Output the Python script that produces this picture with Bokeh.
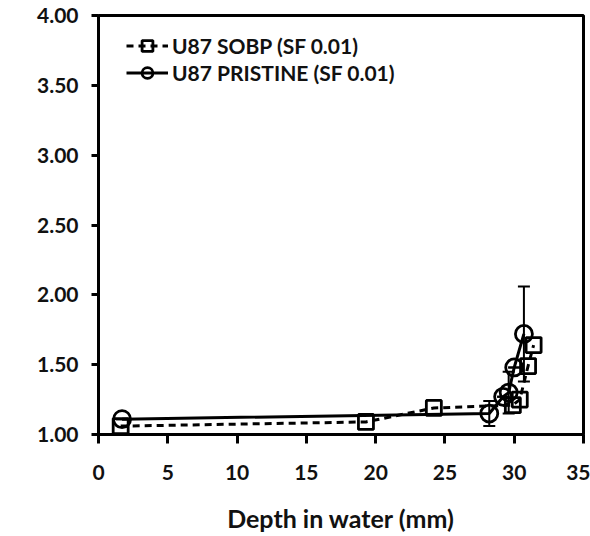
from bokeh.plotting import figure
from bokeh.models import (ColumnDataSource, Whisker, TeeHead, Legend, LegendItem,
                          FixedTicker, NumeralTickFormatter, Range1d)
from bokeh.embed import file_html
from bokeh.resources import INLINE

# ---- data ----
sobp_depth = [1.6, 19.3, 24.2, 29.9, 30.4, 31.0, 31.4]
sobp_val = [1.06, 1.09, 1.19, 1.21, 1.25, 1.49, 1.64]

pristine_depth = [1.7, 28.2, 29.2, 29.6, 30.0, 30.7]
pristine_val = [1.11, 1.15, 1.27, 1.30, 1.48, 1.72]
pristine_err = [0.0, 0.09, 0.0, 0.15, 0.0, 0.34]

x_ticks = [0, 5, 10, 15, 20, 25, 30, 35]
y_ticks = [1.0, 1.5, 2.0, 2.5, 3.0, 3.5, 4.0]

FONT = "Lato"

p = figure(width=590, height=536, output_backend="svg", toolbar_location=None,
           x_range=Range1d(0, 35), y_range=Range1d(1.0, 4.0),
           min_border_left=98, min_border_right=7, min_border_top=15,
           min_border_bottom=102)
p.background_fill_color = "white"
p.border_fill_color = "white"
p.grid.visible = False
p.outline_line_color = "black"
p.outline_line_width = 3

for ax in (p.xaxis[0], p.yaxis[0]):
    ax.axis_line_width = 3
    ax.major_tick_line_width = 3
    ax.major_tick_in = 0
    ax.minor_tick_line_color = None
    ax.major_label_text_font = FONT
    ax.major_label_text_font_style = "bold"
    ax.major_label_text_font_size = "21px"
    ax.major_label_text_color = "#111111"

p.xaxis.major_tick_out = 9
p.yaxis.major_tick_out = 7
p.xaxis.ticker = FixedTicker(ticks=x_ticks)
p.yaxis.ticker = FixedTicker(ticks=y_ticks)
p.yaxis.formatter = NumeralTickFormatter(format="0.00")
p.xaxis.major_label_standoff = 21
p.yaxis.major_label_standoff = 13
p.xaxis.axis_label = "Depth in water (mm)"
p.xaxis.axis_label_text_font = FONT
p.xaxis.axis_label_text_font_style = "bold"
p.xaxis.axis_label_text_font_size = "25px"
p.xaxis.axis_label_text_color = "#111111"
p.xaxis.axis_label_standoff = 20

src_p = ColumnDataSource(dict(x=pristine_depth, y=pristine_val,
                              lo=[v - e for v, e in zip(pristine_val, pristine_err)],
                              hi=[v + e for v, e in zip(pristine_val, pristine_err)]))
src_s = ColumnDataSource(dict(x=sobp_depth, y=sobp_val))

w = Whisker(source=src_p, base="x", upper="hi", lower="lo", dimension="height",
            line_color="black", line_width=2,
            upper_head=TeeHead(size=12, line_width=2, line_color="black"),
            lower_head=TeeHead(size=12, line_width=2, line_color="black"))
p.add_layout(w)

l_s = p.line("x", "y", source=src_s, line_color="black", line_width=3, line_dash="7 5")
m_s = p.scatter("x", "y", source=src_s, marker="square", size=15,
                line_color="black", line_width=2.8, fill_alpha=0)
l_p = p.line("x", "y", source=src_p, line_color="black", line_width=3)
m_p = p.scatter("x", "y", source=src_p, marker="circle", size=17,
                line_color="black", line_width=2.8, fill_alpha=0)

legend = Legend(items=[LegendItem(label="U87 SOBP (SF 0.01)", renderers=[l_s, m_s]),
                       LegendItem(label="U87 PRISTINE (SF 0.01)", renderers=[l_p, m_p])],
                location=(28, 348), border_line_color=None, background_fill_alpha=0,
                label_text_font=FONT, label_text_font_style="bold",
                label_text_font_size="21px", label_text_color="#111111",
                glyph_width=42, glyph_height=27, spacing=0, label_standoff=4,
                margin=0, padding=0)
p.add_layout(legend)

open("out.html", "w").write(file_html(p, INLINE))
